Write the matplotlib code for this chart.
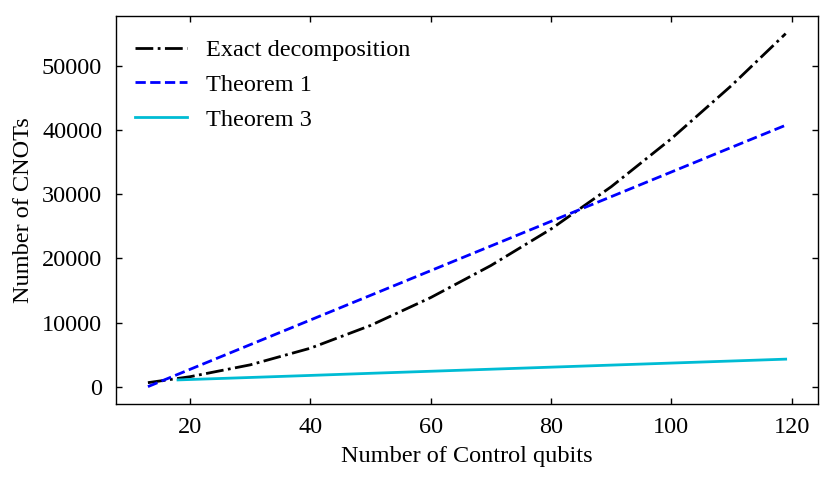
import numpy as np
import matplotlib
matplotlib.use("Agg")
import matplotlib.pyplot as plt

plt.rcParams['font.family'] = ['Liberation Serif', 'DejaVu Serif']
plt.rcParams['mathtext.fontset'] = 'stix'

# values
n_exact = [13, 20, 30, 40, 50, 60, 70, 80, 90, 100, 110, 119]
cnot_exact = [620, 1550, 3400, 6000, 9550, 13900, 18900, 24600, 31200, 38700, 47000, 55100]

n_thm1 = [13, 20, 30, 40, 50, 60, 70, 80, 90, 100, 110, 119]
cnot_thm1 = [0, 2700, 6550, 10400, 14250, 18100, 21950, 25800, 29650, 33500, 37350, 40800]

n_thm3 = [18, 30, 40, 50, 60, 70, 80, 90, 100, 110, 119]
cnot_thm3 = [1050, 1430, 1750, 2080, 2400, 2720, 3040, 3360, 3680, 4000, 4290]

fs = 17.5

fig = plt.figure(figsize=(8.3, 4.84), dpi=100)
ax = fig.add_axes([0.1398, 0.1647, 0.985 - 0.1398, 0.967 - 0.1647])

ax.plot(n_exact, cnot_exact, '-.', color='k', lw=2, label='Exact decomposition')
ax.plot(n_thm1, cnot_thm1, '--', color='b', lw=2, label='Theorem 1')
ax.plot(n_thm3, cnot_thm3, '-', color='#00bcd4', lw=2, label='Theorem 3')

ax.set_xlabel('Number of Control qubits', fontsize=fs, labelpad=6)
ax.set_ylabel('Number of CNOTs', fontsize=fs, labelpad=6)
ax.tick_params(direction='in', top=True, right=True, labelsize=fs, length=4.5, width=1)
ax.tick_params(axis='x', pad=9)
ax.tick_params(axis='y', pad=10)
for s in ax.spines.values():
    s.set_linewidth(1.0)

ax.set_xticks([20, 40, 60, 80, 100, 120])
ax.set_yticks([0, 10000, 20000, 30000, 40000, 50000])

ax.legend(loc='upper left', bbox_to_anchor=(0.0, 0.99), frameon=False,
          fontsize=fs, handlelength=2.1, handletextpad=0.8,
          labelspacing=0.52, borderaxespad=0.4)

plt.savefig('out.png', dpi=100)
